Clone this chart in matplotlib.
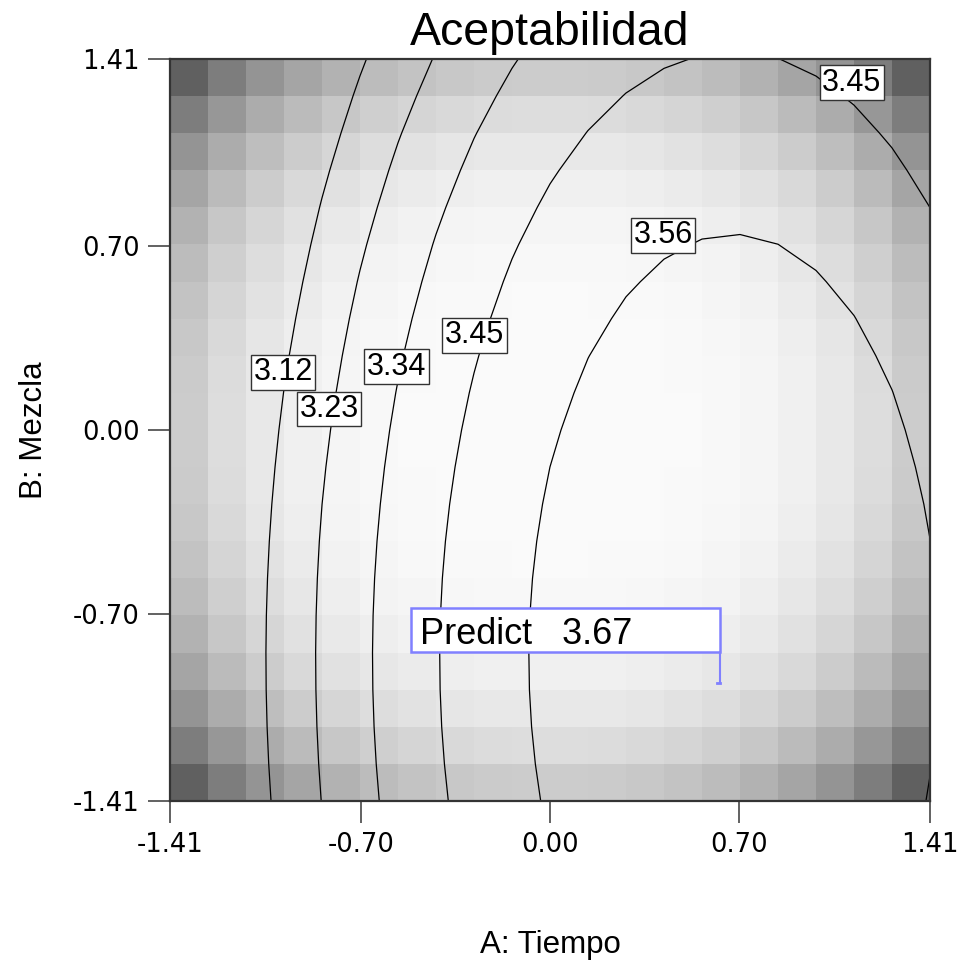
import numpy as np
import matplotlib
matplotlib.use("Agg")
import matplotlib.pyplot as plt
from matplotlib.patches import Rectangle

plt.rcParams["font.family"] = ["DejaVu Sans"]

# ---------------- data ----------------
FACTOR_MIN, FACTOR_MAX = -1.41, 1.41
TICKS = [-1.41, -0.70, 0.00, 0.70, 1.41]
TICK_LABELS = ["-1.41", "-0.70", "0.00", "0.70", "1.41"]
GRID_STEPS = 20                       # Design-Expert 20 x 20 grid
CONTOUR_LEVELS = [3.12, 3.23, 3.34, 3.45, 3.56]
# fitted response model: y = b0 + bA*A + bB*B + bAA*A^2 + bBB*B^2 + bAB*A*B
MODEL_TERMS = ["1", "A", "B", "A2", "B2", "AB"]
MODEL_COEFS = [3.551, 0.246, -0.070, -0.181, -0.0404, 0.0]
# background shading (grey level): s0 + s1*(A^4+B^4) + s2*A^2*B^2
SHADE_COEFS = [0.98, -0.0558, -0.0757]
PREDICT_POINT = [0.63, -0.96]
PREDICT_VALUE = 3.67
# contour label anchor points (coded units), one per label
LABEL_LEVELS = [3.12, 3.23, 3.34, 3.45, 3.56, 3.45]
LABEL_A = [-0.99, -0.82, -0.57, -0.28, 0.42, 1.12]
LABEL_B = [0.22, 0.08, 0.24, 0.36, 0.74, 1.32]

TITLE = "Aceptabilidad"
XLABEL = "A: Tiempo"
YLABEL = "B: Mezcla"

SANS = ["Liberation Sans", "DejaVu Sans"]

# ---------------- figure ----------------
W, H = 960, 963
fig = plt.figure(figsize=(W / 100, H / 100), dpi=100)
AX_L, AX_R, AX_T, AX_B = 170, 930, 59, 801
ax = fig.add_axes([AX_L / W, (H - AX_B) / H, (AX_R - AX_L) / W, (AX_B - AX_T) / H])

edges = np.linspace(FACTOR_MIN, FACTOR_MAX, GRID_STEPS + 1)
centers = 0.5 * (edges[:-1] + edges[1:])

# background shading cells
CA, CB = np.meshgrid(centers, centers)
shade = SHADE_COEFS[0] + SHADE_COEFS[1] * (CA ** 4 + CB ** 4) + SHADE_COEFS[2] * CA ** 2 * CB ** 2
ax.pcolormesh(edges, edges, shade, cmap="gray", vmin=0, vmax=1, shading="flat",
              edgecolors="none", antialiased=False, zorder=0)

# response on grid nodes
GA, GB = np.meshgrid(edges, edges)
b0, bA, bB, bAA, bBB, bAB = MODEL_COEFS
Z = b0 + bA * GA + bB * GB + bAA * GA ** 2 + bBB * GB ** 2 + bAB * GA * GB
cs = ax.contour(GA, GB, Z, levels=CONTOUR_LEVELS, colors="black", linewidths=0.9, zorder=2)

# contour labels (boxed)
for lev, la, lb in zip(LABEL_LEVELS, LABEL_A, LABEL_B):
    ax.text(la, lb, f"{lev:.2f}", ha="center", va="center", fontsize=22,
            family=SANS, zorder=4,
            bbox=dict(boxstyle="square,pad=0.08", fc="white", ec="#333333", lw=1.0))

ax.set_xlim(FACTOR_MIN, FACTOR_MAX)
ax.set_ylim(FACTOR_MIN, FACTOR_MAX)

# predict flag
sA = (FACTOR_MAX - FACTOR_MIN) / (AX_R - AX_L)   # data units per pixel
sB = (FACTOR_MAX - FACTOR_MIN) / (AX_B - AX_T)
pa, pb = PREDICT_POINT
box_w, box_h, box_gap = 309, 44, 31
flag_col = "#8080ff"
ax.add_patch(Rectangle((pa - box_w * sA, pb + box_gap * sB), box_w * sA, box_h * sB,
                       fc="white", ec=flag_col, lw=1.8, zorder=5))
ax.plot([pa, pa], [pb, pb + box_gap * sB], color=flag_col, lw=1.5, zorder=5)
ax.plot([pa - 3 * sA, pa], [pb, pb], color=flag_col, lw=2.0, zorder=5)
ax.text(pa - (box_w - 9) * sA, pb + (box_gap + 8) * sB, f"Predict   {PREDICT_VALUE:.2f}",
        ha="left", va="baseline", fontsize=26, family=SANS, zorder=6)

# axes styling
ax.set_xticks(TICKS)
ax.set_xticklabels(TICK_LABELS)
ax.set_yticks(TICKS)
ax.set_yticklabels(TICK_LABELS)
ax.tick_params(axis="both", direction="out", length=16, width=1.3, color="#555555",
               labelsize=18.5, pad=6, labelcolor="black")
ax.tick_params(top=False, right=False)
for lbl in ax.get_xticklabels() + ax.get_yticklabels():
    lbl.set_family("DejaVu Sans")
for sp in ax.spines.values():
    sp.set_color("#333333")
    sp.set_linewidth(1.6)

ax.set_title(TITLE, fontsize=33.5, family=SANS, pad=10)
fig.text(550 / W, (H - 953) / H, XLABEL, ha="center", va="baseline", fontsize=22.5,
         family=SANS)
fig.text(42 / W, (H - 430) / H, YLABEL, rotation=90, rotation_mode="anchor",
         ha="center", va="baseline", fontsize=22.5, family=SANS)

fig.savefig("out.png", dpi=100, facecolor="white")
